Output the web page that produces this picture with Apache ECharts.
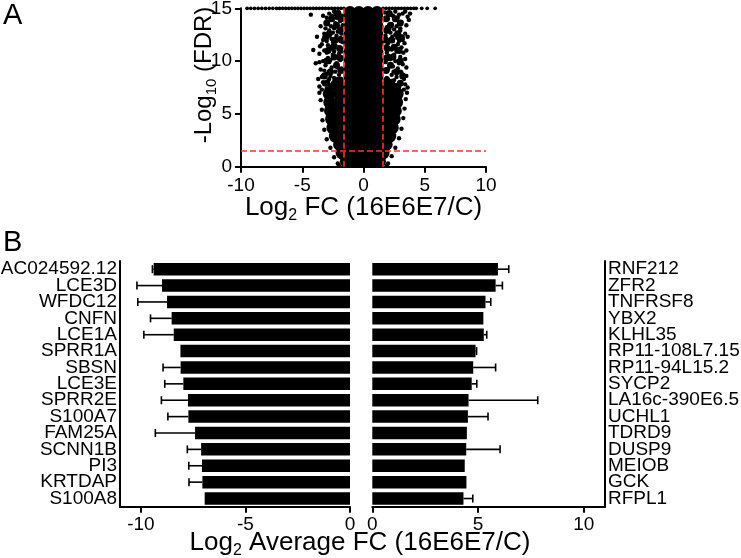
<!DOCTYPE html>
<html>
<head>
<meta charset="utf-8">
<script src="https://cdn.jsdelivr.net/npm/echarts@6/dist/echarts.min.js"></script>
<style>
html,body{margin:0;padding:0;background:#fff;}
#c{width:741px;height:558px;}
</style>
</head>
<body>
<div id="c"></div>
<script>
// ---------- Panel A: volcano plot ----------
// dense core of genes (drawn with large dots)
const volcanoCore = [
 [-1.4,0.5],[-1.1,0.5],[-0.37,0.5],[0.37,0.5],[1.1,0.5],[1.3,0.5],
 [-1.75,1.3],[-1.1,1.3],[-0.37,1.3],[0.37,1.3],[1.1,1.3],[1.6,1.3],
 [-1.95,2.1],[-1.1,2.1],[-0.37,2.1],[0.37,2.1],[1.1,2.1],[1.85,2.1],
 [-2.3,2.9],[-1.8,2.9],[-1.1,2.9],[-0.37,2.9],[0.37,2.9],[1.1,2.9],[1.75,2.9],[2.15,2.9],
 [-2.5,3.7],[-1.8,3.7],[-1.1,3.7],[-0.37,3.7],[0.37,3.7],[1.1,3.7],[1.8,3.7],[2.35,3.7],
 [-2.6,4.5],[-1.85,4.5],[-1.1,4.5],[-0.37,4.5],[0.37,4.5],[1.1,4.5],[1.85,4.5],[2.5,4.5],
 [-2.7,5.3],[-1.9,5.3],[-1.1,5.3],[-0.37,5.3],[0.37,5.3],[1.1,5.3],[1.9,5.3],[2.6,5.3],
 [-2.75,6.1],[-1.9,6.1],[-1.1,6.1],[-0.37,6.1],[0.37,6.1],[1.1,6.1],[1.9,6.1],[2.7,6.1],
 [-2.8,6.9],[-1.95,6.9],[-1.1,6.9],[-0.37,6.9],[0.37,6.9],[1.1,6.9],[1.95,6.9],[2.75,6.9],
 [-2.0,7.7],[-1.1,7.7],[-0.37,7.7],[0.37,7.7],[1.1,7.7],[2.0,7.7],
 [-1.1,8.5],[-0.37,8.5],[0.37,8.5],[1.1,8.5],
 [-1.1,9.3],[-0.37,9.3],[0.37,9.3],[1.1,9.3],
 [-1.1,10.1],[-0.37,10.1],[0.37,10.1],[1.1,10.1],
 [-1.1,10.9],[-0.37,10.9],[0.37,10.9],[1.1,10.9],
 [-1.1,11.7],[-0.37,11.7],[0.37,11.7],[1.1,11.7],
 [-1.1,12.5],[-0.37,12.5],[0.37,12.5],[1.1,12.5],
 [-1.1,13.3],[-0.37,13.3],[0.37,13.3],[1.1,13.3],
 [-1.1,14.1],[-0.37,14.1],[0.37,14.1],[1.1,14.1],
 [-1.1,14.6],[-0.37,14.6],[0.37,14.6],[1.1,14.6]
];
// denser genes just outside the fold-change thresholds (medium dots)
const volcanoNear = [
 [-1.9,8.2],[-2.3,8.0],[-2.6,7.6],[-1.85,9.1],[-2.2,9.6],[-1.9,10.3],[-2.4,10.4],[-1.95,11.2],[-1.8,12.0],
 [-2.3,12.0],[-1.9,12.9],[-2.2,13.4],[-1.85,14.0],[-2.1,14.5],[-2.7,9.0],[-2.5,11.3],[-2.8,12.6],[-2.6,14.0],
 [-3.0,7.9],[-3.2,8.6],[-3.0,10.0],[-2.9,11.0],[-3.1,12.2],[-3.0,13.6],
 [1.9,8.2],[2.3,8.0],[2.6,7.6],[1.85,9.1],[2.2,9.6],[1.9,10.3],[2.4,10.4],[1.95,11.2],[1.8,12.0],
 [2.3,12.0],[1.9,12.9],[2.2,13.4],[1.85,14.0],[2.1,14.5],[2.7,9.0],[2.5,11.3],[2.8,12.6],[2.6,14.0],
 [3.0,7.9],[3.2,8.6],[3.0,10.0],[2.9,11.0],[3.1,12.2],[3.0,13.6]
];
// scattered genes on the flanks
const volcanoFlank = [
 [-3.6,7.6],[-3.2,7.8],[-2.9,8.1],[-2.5,7.9],[-2.2,8.3],[-1.9,8.0],[-3.4,8.5],[-3.0,8.8],[-2.7,8.6],[-2.3,9.0],
 [-2.0,8.7],[-1.8,9.3],[-3.5,9.2],[-3.1,9.6],[-2.6,9.4],[-2.2,9.8],[-1.9,10.1],[-3.3,10.0],[-2.9,10.3],[-2.5,10.6],
 [-2.1,10.4],[-1.8,10.9],[-3.6,10.7],[-3.2,11.0],[-2.7,11.2],[-2.3,11.5],[-2.0,11.3],[-1.7,11.8],[-3.4,11.6],[-3.0,11.9],
 [-2.6,12.1],[-2.2,12.4],[-1.9,12.2],[-3.2,12.6],[-2.8,12.9],[-2.4,13.1],[-2.0,13.0],[-1.7,13.4],[-3.5,13.3],[-3.0,13.6],
 [-2.6,13.9],[-2.2,14.1],[-1.9,13.8],[-3.3,14.3],[-2.8,14.5],[-2.4,14.7],[-2.0,14.6],[-1.75,14.3],[-4.1,11.05],[-4.3,14.4],
 [-3.8,12.3],[-3.9,9.8],[-3.7,8.3],[-2.4,8.4],[-2.8,9.9],[-2.4,10.9],[-2.9,11.5],[-2.5,12.7],[-2.1,12.8],[-3.1,13.1],
 [-2.3,13.6],[-2.6,14.3],[-1.8,7.6],[-2.6,7.5],[-3.0,7.4],[-3.4,7.3],[-3.3,8.0],[-2.1,9.4],[-3.6,9.9],[-2.0,10.7],
 [-3.0,10.8],[-2.5,11.8],[-1.8,12.6],[-3.3,12.0],[-2.9,12.3],[-2.3,14.4],[-3.0,14.1],[-1.9,11.0],[-2.7,10.1],[-3.2,9.1],
 [-2.8,8.3],[-2.3,7.6],[-2.05,7.95],[-3.55,11.4],[-2.65,13.3],[-1.85,13.1],
 [1.8,7.6],[2.2,7.9],[2.6,7.7],[3.0,8.0],[3.4,7.8],[1.9,8.4],[2.3,8.7],[2.7,8.5],[3.1,8.9],[3.5,8.6],
 [2.0,9.2],[2.4,9.5],[2.8,9.3],[3.2,9.7],[1.8,9.9],[2.2,10.2],[2.6,10.0],[3.0,10.4],[3.4,10.2],[1.9,10.8],
 [2.3,11.1],[2.7,10.9],[3.1,11.3],[3.5,11.0],[2.0,11.7],[2.4,11.9],[2.8,11.6],[3.2,12.0],[1.8,12.4],[2.2,12.7],
 [2.6,12.5],[3.0,12.9],[3.4,12.6],[1.9,13.2],[2.3,13.5],[2.7,13.3],[3.1,13.7],[3.5,13.4],[2.0,14.0],[2.4,14.3],
 [2.8,14.1],[3.2,14.5],[3.6,14.2],[1.75,14.6],[2.6,14.7],[3.7,13.9],[3.6,12.3],[3.8,14.5],[3.5,9.4],[3.3,8.3],
 [2.5,8.2],[2.9,9.8],[2.5,10.6],[2.9,11.9],[2.5,13.0],[2.1,13.0],[3.0,13.1],[2.2,14.4],[1.85,11.4],[2.05,10.5],
 [3.25,10.8],[2.75,12.2],[3.35,11.7],[2.15,8.1],[2.45,9.0],[3.05,9.0],[1.95,7.3],[2.4,7.4],[2.9,7.5],[3.3,7.3],
 [3.6,7.5],[1.9,12.0],[3.4,14.7],[2.9,14.4],[2.35,12.3],[3.15,12.3],
 [-2.1,0.3],[-2.4,0.9],[-2.7,1.8],[-3.0,2.6],[-3.2,3.5],[-3.35,4.4],[-3.4,5.4],[-3.5,6.3],[-3.6,7.0],[-2.0,0.1],
 [2.0,0.3],[2.3,1.0],[2.6,1.8],[2.9,2.7],[3.1,3.6],[3.25,4.6],[3.35,5.5],[3.45,6.4],[3.55,7.0],[1.9,0.1]
];
// genes at the FDR cap (-log10 FDR = 15)
const volcanoCapX = [
 -9.5,-9.2,-8.9,-8.6,-8.3,-8.0,-7.7,-7.4,-7.1,-6.85,-6.6,-6.35,-6.1,-5.85,-5.6,-5.35,-5.1,-4.85,-4.6,-4.35,
 -4.1,-3.85,-3.6,-3.35,-3.1,-2.85,-2.6,-2.35,-2.1,-1.85,-1.6,1.6,1.85,2.1,2.35,2.6,2.85,3.1,3.35,3.6,
 3.85,4.1,4.3,4.75,5.2,5.85
];
const volcanoCapY = 15;
const fcThresh = [-1.585, 1.585];
const fdrThresh = [1.5];
const volcanoXTicks = [-10, -5, 0, 5, 10];
const volcanoYTicks = [0, 5, 10, 15];

// ---------- Panel B: top down / up regulated genes ----------
const downGenes = ['AC024592.12','LCE3D','WFDC12','CNFN','LCE1A','SPRR1A','SBSN','LCE3E','SPRR2E','S100A7','FAM25A','SCNN1B','PI3','KRTDAP','S100A8'];
const downFC    = [-9.39,-8.99,-8.75,-8.53,-8.43,-8.11,-8.10,-7.97,-7.75,-7.73,-7.41,-7.12,-7.08,-7.06,-6.95];
const downErr   = [0.06,1.20,1.40,1.01,1.43,0,0.84,0.89,1.27,0.98,1.90,0.66,0.63,0.64,0];
const upGenes   = ['RNF212','ZFR2','TNFRSF8','YBX2','KLHL35','RP11-108L7.15','RP11-94L15.2','SYCP2','LA16c-390E6.5','UCHL1','TDRD9','DUSP9','MEIOB','GCK','RFPL1'];
const upFC      = [5.94,5.83,5.35,5.25,5.27,4.88,4.77,4.70,4.55,4.52,4.47,4.44,4.37,4.45,4.31];
const upErr     = [0.51,0.32,0.25,0,0.14,0.05,1.06,0.24,3.27,0.95,0,1.60,0,0,0.44];
const downTicks = [-10, -5, 0];
const upTicks   = [0, 5, 10];

const FONT = "'Liberation Sans', Arial, Helvetica, sans-serif";
const chart = echarts.init(document.getElementById('c'), null, {renderer: 'canvas'});

const axisLine = {show: true, onZero: false, lineStyle: {color: '#000', width: 2}};
const axisTick = {show: true, inside: false, length: 6, lineStyle: {color: '#000', width: 2}};
const tickLabel = {color: '#000', fontSize: 19, fontFamily: FONT};
const dot = {color: '#000', opacity: 1, borderWidth: 0};

function errRender(params, api) {
  const a = api.coord([api.value(0), api.value(1)]);
  const b = api.coord([api.value(2), api.value(1)]);
  if (Math.abs(b[0] - a[0]) < 0.5) return null;
  const st = {stroke: '#000', lineWidth: 1.6};
  return {type: 'group', children: [
    {type: 'line', shape: {x1: a[0], y1: a[1], x2: b[0], y2: b[1]}, style: st},
    {type: 'line', shape: {x1: b[0], y1: b[1] - 4, x2: b[0], y2: b[1] + 4}, style: st}
  ]};
}

const richMain = {fontSize: 26, fontFamily: FONT, color: '#000', lineHeight: 32, verticalAlign: 'middle'};
const richSub = {fontSize: 16, fontFamily: FONT, color: '#000', lineHeight: 16, verticalAlign: 'bottom'};
const rich = {a: richMain, s: richSub};
const richY = {a: Object.assign({}, richMain, {fontSize: 24, lineHeight: 30}), s: Object.assign({}, richSub, {fontSize: 15, lineHeight: 15})};

const option = {
  animation: false,
  backgroundColor: '#fff',
  grid: [
    {left: 241, top: 8.3, width: 245, height: 158.4, outerBoundsMode: 'none', containLabel: false},
    {left: 120, top: 261, width: 230, height: 245.7, outerBoundsMode: 'none', containLabel: false},
    {left: 372.3, top: 261, width: 232.7, height: 245.7, outerBoundsMode: 'none', containLabel: false}
  ],
  xAxis: [
    {gridIndex: 0, type: 'value', min: -10, max: 10, interval: 5, axisLine: axisLine, axisTick: axisTick,
     axisLabel: Object.assign({margin: 10, customValues: volcanoXTicks}, tickLabel), splitLine: {show: false}},
    {gridIndex: 1, type: 'value', min: -11, max: 0, axisLine: axisLine,
     axisTick: Object.assign({customValues: downTicks}, axisTick),
     axisLabel: Object.assign({margin: 9, customValues: downTicks}, tickLabel), splitLine: {show: false}},
    {gridIndex: 2, type: 'value', min: 0, max: 11, axisLine: axisLine,
     axisTick: Object.assign({customValues: upTicks}, axisTick),
     axisLabel: Object.assign({margin: 9, customValues: upTicks}, tickLabel), splitLine: {show: false}}
  ],
  yAxis: [
    {gridIndex: 0, type: 'value', min: 0, max: 15, interval: 5, axisLine: axisLine, axisTick: axisTick,
     axisLabel: Object.assign({margin: 9, customValues: volcanoYTicks}, tickLabel), splitLine: {show: false}},
    {gridIndex: 1, type: 'category', data: downGenes, inverse: true, position: 'left', axisLine: axisLine,
     axisTick: {show: false}, axisLabel: Object.assign({}, tickLabel, {margin: 3, interval: 0}), splitLine: {show: false}},
    {gridIndex: 2, type: 'category', data: upGenes, inverse: true, position: 'right', axisLine: axisLine,
     axisTick: {show: false}, axisLabel: Object.assign({}, tickLabel, {margin: 3, interval: 0}), splitLine: {show: false}}
  ],
  series: [
    {type: 'scatter', xAxisIndex: 0, yAxisIndex: 0, data: volcanoCore, symbolSize: 13,
     itemStyle: dot, silent: true, clip: false},
    {type: 'scatter', xAxisIndex: 0, yAxisIndex: 0, data: volcanoNear, symbolSize: 7,
     itemStyle: dot, silent: true},
    {type: 'scatter', xAxisIndex: 0, yAxisIndex: 0, data: volcanoFlank, symbolSize: 4.4,
     itemStyle: dot, silent: true},
    {type: 'scatter', xAxisIndex: 0, yAxisIndex: 0, data: volcanoCapX.map(x => [x, volcanoCapY]), symbolSize: 3.8,
     itemStyle: dot, silent: true, clip: false,
     markLine: {silent: true, symbol: ['none', 'none'], label: {show: false}, animation: false,
       lineStyle: {color: '#e63c2a', width: 1.6, type: [6, 3], opacity: 1},
       data: fcThresh.map(v => ({xAxis: v})).concat(fdrThresh.map(v => ({yAxis: v})))}},
    {type: 'bar', xAxisIndex: 1, yAxisIndex: 1, data: downFC, barWidth: 12.5, itemStyle: {color: '#000'}, silent: true},
    {type: 'bar', xAxisIndex: 2, yAxisIndex: 2, data: upFC, barWidth: 12.5, itemStyle: {color: '#000'}, silent: true},
    {type: 'custom', xAxisIndex: 1, yAxisIndex: 1, renderItem: errRender, silent: true,
     encode: {x: [0, 2], y: 1},
     data: downFC.map((v, i) => [v, i, v - downErr[i]])},
    {type: 'custom', xAxisIndex: 2, yAxisIndex: 2, renderItem: errRender, silent: true,
     encode: {x: [0, 2], y: 1},
     data: upFC.map((v, i) => [v, i, v + upErr[i]])}
  ],
  graphic: [
    {type: 'text', left: 3, top: 1, style: {text: 'A', fontSize: 29, fontFamily: FONT, fill: '#000'}},
    {type: 'text', left: 3, top: 228, style: {text: 'B', fontSize: 29, fontFamily: FONT, fill: '#000'}},
    {type: 'text', x: 204, y: 75, rotation: Math.PI / 2,
     style: {text: '{a|-Log}{s|10}{a| (FDR)}', rich: richY, align: 'center', verticalAlign: 'middle'}},
    {type: 'text', x: 363.5, y: 208,
     style: {text: '{a|Log}{s|2}{a| FC (16E6E7/C)}', rich: rich, align: 'center', verticalAlign: 'middle'}},
    {type: 'text', x: 360, y: 543,
     style: {text: '{a|Log}{s|2}{a| Average FC (16E6E7/C)}', rich: rich, align: 'center', verticalAlign: 'middle'}}
  ]
};
chart.setOption(option);
</script>
</body>
</html>
